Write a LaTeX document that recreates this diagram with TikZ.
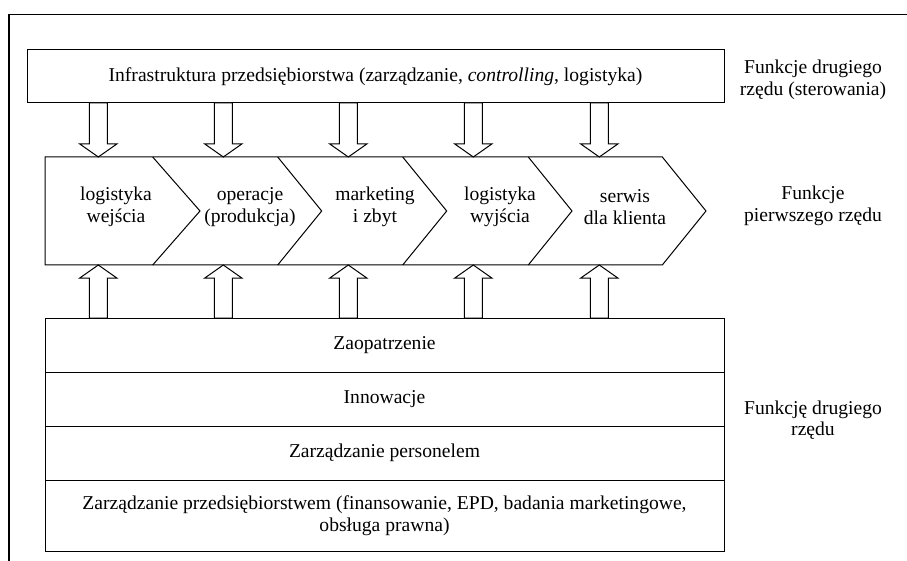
\documentclass[tikz,border=0pt]{standalone}
\usepackage{fontspec}
\setmainfont{Liberation Serif}
\begin{document}
\begin{tikzpicture}[x=1pt,y=-1pt,
  every node/.style={font=\fontsize{19.6}{22.5}\selectfont},
  ln/.style={line width=1pt, line join=miter},
  boxnode/.style={ln, draw, inner sep=0pt, outer sep=0pt, align=center},
  lbl/.style={align=center, inner sep=0pt},
  downarr/.pic={\draw[ln, fill=white] (-9,0) -- (9,0) -- (9,41) -- (18.5,41) -- (0,54) -- (-18.5,41) -- (-9,41) -- cycle;},
  uparr/.pic={\draw[ln, fill=white] (0,0) -- (18.5,13) -- (9,13) -- (9,53) -- (-9,53) -- (-9,13) -- (-18.5,13) -- cycle;}
]
\useasboundingbox (0,0) rectangle (907,561);
% outer frame
\draw[line width=1.2pt] (9,561) -- (9,14.7) -- (907,14.7);

% top box
\node[boxnode, minimum width=697pt, minimum height=53pt] (infra) at (375.5,76.5)
  {Infrastruktura przedsiębiorstwa (zarządzanie, \textit{controlling}, logistyka)};

% chevron row
\draw[ln] (45,157) -- (662.3,157) -- (706,211) -- (662.3,265) -- (45,265) -- cycle;
\foreach \c/\t in {152.7/200, 277.7/321.7, 402.7/446.7, 528.3/572}{
  \draw[ln] (\c,157) -- (\t,211) -- (\c,265);
}
\node[lbl] (c1) at (116,207) {logistyka\\wejścia};
\node[lbl] (c2) at (250,207) {operacje\\(produkcja)};
\node[lbl] (c3) at (375,207) {marketing\\i zbyt};
\node[lbl] (c4) at (500,207) {logistyka\\wyjścia};
\node[lbl] (c5) at (625,207) {serwis\\dla klienta};

% arrows
\foreach \x in {98.3,223.3,348.3,473.3,599.3}{
  \pic at (\x,103) {downarr};
  \pic at (\x,265) {uparr};
}

% bottom boxes
\node[boxnode, minimum width=679pt, minimum height=54pt] (zaop) at (384.5,345) {Zaopatrzenie};
\node[boxnode, minimum width=679pt, minimum height=54pt] (inno) at (384.5,399) {Innowacje};
\node[boxnode, minimum width=679pt, minimum height=54pt] (pers) at (384.5,453) {Zarządzanie personelem};
\node[boxnode, minimum width=679pt, minimum height=71pt] (zarz) at (384.5,515.5)
  {Zarządzanie przedsiębiorstwem (finansowanie, EPD, badania marketingowe,\\obsługa prawna)};

% right labels
\node[lbl, font=\fontsize{19.6}{21.5}\selectfont] (l1) at (813,80) {Funkcje drugiego\\rzędu (sterowania)};
\node[lbl] (l2) at (813,206) {Funkcje\\pierwszego rzędu};
\node[lbl, font=\fontsize{19.6}{21.5}\selectfont] (l3) at (813,420) {Funkcję drugiego\\rzędu};
\end{tikzpicture}
\end{document}
